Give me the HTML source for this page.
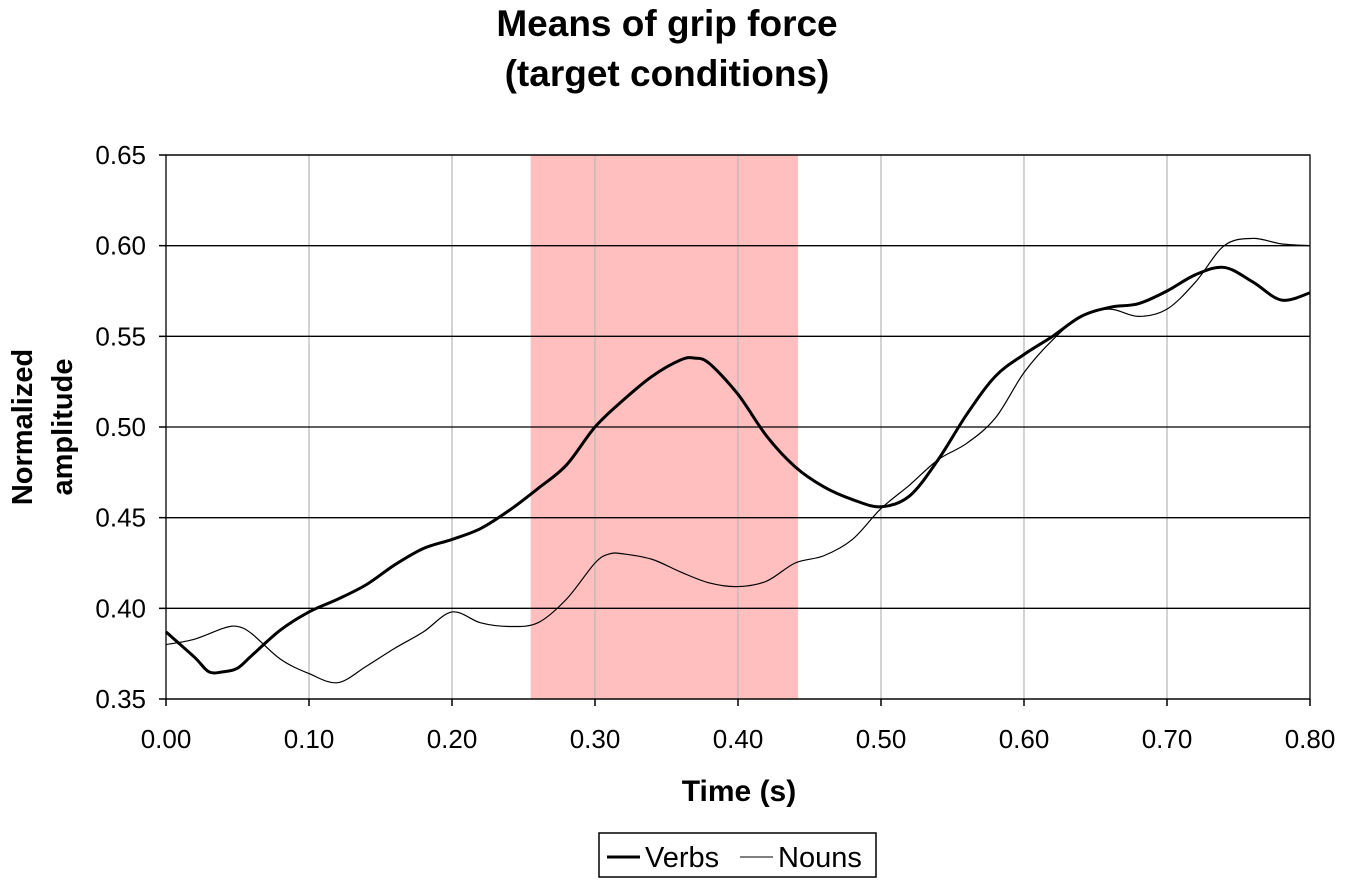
<!DOCTYPE html>
<html><head><meta charset="utf-8"><style>
body{margin:0;background:#fff;}
svg{display:block;font-family:"Liberation Sans",Arial,sans-serif;}
</style></head><body>
<svg id="chart" width="1345" height="888">
<text x="667" y="36" text-anchor="middle" font-size="37" font-weight="bold">Means of grip force</text>
<text x="667" y="86" text-anchor="middle" font-size="37" font-weight="bold">(target conditions)</text>
<g id="plot"></g>
<text x="739" y="801" text-anchor="middle" font-size="30" font-weight="bold">Time (s)</text>
<text transform="translate(32,427) rotate(-90)" text-anchor="middle" font-size="29" font-weight="bold"><tspan x="0" dy="0">Normalized</tspan><tspan x="0" dy="40">amplitude</tspan></text>
<g>
<rect x="599" y="833" width="277" height="44" fill="#fff" stroke="#000" stroke-width="1.5"/>
<g><line x1="607" y1="857" x2="640" y2="857" stroke="#000" stroke-width="3"/><text x="645" y="867" font-size="29">Verbs</text></g>
<g><line x1="740" y1="857" x2="773" y2="857" stroke="#000" stroke-width="1"/><text x="778" y="867" font-size="29">Nouns</text></g>
</g>
</svg>
<script>
const xTicks=[0,0.1,0.2,0.3,0.4,0.5,0.6,0.7,0.8];
const yTicks=[0.35,0.40,0.45,0.50,0.55,0.60,0.65];
const band=[0.255,0.442];
const verbsT=[0,0.02,0.03,0.04,0.05,0.06,0.08,0.10,0.12,0.14,0.16,0.18,0.20,0.22,0.24,0.26,0.28,0.30,0.32,0.34,0.36,0.37,0.38,0.40,0.42,0.44,0.46,0.48,0.50,0.52,0.54,0.56,0.58,0.60,0.62,0.64,0.66,0.68,0.70,0.72,0.74,0.76,0.78,0.80];
const verbsV=[0.387,0.373,0.365,0.365,0.367,0.374,0.388,0.398,0.405,0.413,0.424,0.433,0.438,0.444,0.454,0.466,0.479,0.500,0.515,0.528,0.537,0.538,0.535,0.518,0.495,0.478,0.467,0.460,0.456,0.462,0.482,0.507,0.528,0.540,0.550,0.561,0.566,0.568,0.575,0.584,0.588,0.580,0.570,0.574];
const nounsT=[0,0.02,0.04,0.05,0.06,0.08,0.10,0.12,0.14,0.16,0.18,0.20,0.22,0.24,0.26,0.28,0.30,0.31,0.32,0.34,0.36,0.38,0.40,0.42,0.44,0.46,0.48,0.50,0.52,0.54,0.56,0.58,0.60,0.62,0.64,0.66,0.68,0.70,0.72,0.74,0.76,0.78,0.80];
const nounsV=[0.380,0.383,0.389,0.390,0.386,0.372,0.364,0.359,0.368,0.378,0.387,0.398,0.392,0.390,0.392,0.405,0.425,0.430,0.430,0.427,0.420,0.414,0.412,0.415,0.425,0.429,0.438,0.455,0.468,0.482,0.491,0.505,0.530,0.548,0.561,0.565,0.561,0.565,0.580,0.600,0.604,0.601,0.600];

const L=166,R=1310,T=155,B=699;
const xs=t=>L+(t-0)/0.8*(R-L);
const ys=v=>B-(v-0.35)/0.30*(B-T);
const NS="http://www.w3.org/2000/svg";
const g=document.getElementById('plot');
function mk(tag,attrs){const e=document.createElementNS(NS,tag);for(const k in attrs)e.setAttribute(k,attrs[k]);g.appendChild(e);return e;}

const bd=mk('rect',{x:xs(band[0]),y:T,width:xs(band[1])-xs(band[0]),height:B-T,fill:'#ffbfbf'});



xTicks.forEach(t=>{
 if(t>0&&t<0.8){const l=mk('line',{x1:xs(t),x2:xs(t),y1:T,y2:B,stroke:'#bbb','stroke-width':1.3});
 
 }
 const tk=mk('line',{x1:xs(t),x2:xs(t),y1:B,y2:B+7,stroke:'#000','stroke-width':1.5});
 
 
 const tx=mk('text',{x:xs(t),y:B+49,'text-anchor':'middle','font-size':26});
 tx.textContent=t.toFixed(2);
 
 
});
yTicks.forEach(v=>{
 const l=mk('line',{x1:L,x2:R,y1:ys(v),y2:ys(v),stroke:'#000','stroke-width':1.3});
 
 
 const tk=mk('line',{x1:L-7,x2:L,y1:ys(v),y2:ys(v),stroke:'#000','stroke-width':1.5});
 
 
 const tx=mk('text',{x:L-20,y:ys(v)+9,'text-anchor':'end','font-size':26});
 tx.textContent=v.toFixed(2);
 
 
});
const fr=mk('rect',{x:L,y:T,width:R-L,height:B-T,fill:'none',stroke:'#000','stroke-width':1.3});



function pathD(ts,vs){
 const p=ts.map((t,i)=>[xs(t),ys(vs[i])]);
 let d='M'+p[0][0]+','+p[0][1];
 for(let i=0;i<p.length-1;i++){
  const p0=p[Math.max(i-1,0)],p1=p[i],p2=p[i+1],p3=p[Math.min(i+2,p.length-1)];
  const c1=[p1[0]+(p2[0]-p0[0])/6,p1[1]+(p2[1]-p0[1])/6];
  const c2=[p2[0]-(p3[0]-p1[0])/6,p2[1]-(p3[1]-p1[1])/6];
  d+=' C'+c1+' '+c2+' '+p2;
 }
 return d;
}
const nl=mk('path',{d:pathD(nounsT,nounsV),fill:'none',stroke:'#000','stroke-width':1.2});


const vl=mk('path',{d:pathD(verbsT,verbsV),fill:'none',stroke:'#000','stroke-width':3});


</script>
</body></html>
